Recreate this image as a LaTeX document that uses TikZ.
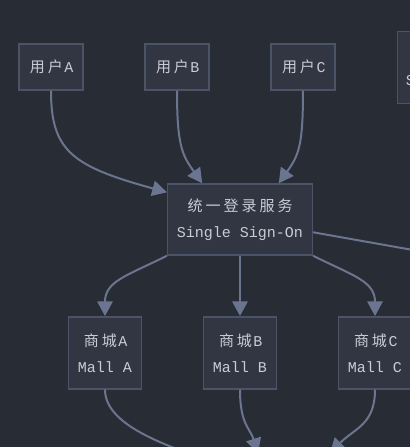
\documentclass[tikz,border=0pt]{standalone}
\usepackage{fontspec}
\setmainfont{Liberation Mono}
\newfontfamily\cjkf{Noto Sans CJK SC}
\usetikzlibrary{arrows.meta,calc}
\definecolor{bg}{HTML}{282C34}
\definecolor{nf}{HTML}{323642}
\definecolor{bd}{HTML}{4B5366}
\definecolor{ed}{HTML}{6B7590}
\definecolor{tx}{HTML}{C8CCD4}
\newcommand{\Z}[1]{\makebox[13.5pt]{\cjkf #1}}
\begin{document}
\begin{tikzpicture}[x=0.75pt,y=-0.75pt,
  box/.style={draw=bd,fill=nf,line width=1.1pt,inner sep=0pt,text=tx,align=center,
    font=\fontsize{11.25pt}{19.5pt}\selectfont},
  userbox/.style={box,minimum width=48pt,minimum height=34.5pt},
  mallbox/.style={box,minimum width=55pt,minimum height=54pt},
  edge/.style={draw=ed,line width=1.5pt,-{Triangle[length=11pt,width=11.5pt]}},
  plain/.style={draw=ed,line width=1.5pt}]
\useasboundingbox (0,0) rectangle (410,447);
\clip (0,0) rectangle (410,447);
\fill[bg] (0,0) rectangle (410,447);

\node[userbox] (ua) at (51,67) {\Z{用}\Z{户}A};
\node[userbox] (ub) at (177,67) {\Z{用}\Z{户}B};
\node[userbox] (uc) at (303,67) {\Z{用}\Z{户}C};
\node[box,anchor=north west,minimum width=75pt,minimum height=54pt] (rn) at (396.7,31) {};
\node[text=tx,inner sep=0pt,anchor=west,font=\fontsize{11.25pt}{19.5pt}\selectfont] (rnt) at (405.5,81) {S};

\node[box,minimum width=108.5pt,minimum height=53.25pt] (sso) at (240,219.5)
  {\Z{统}\Z{一}\Z{登}\Z{录}\Z{服}\Z{务}\\Single Sign-On};

\node[mallbox] (ma) at (105,352.8) {\Z{商}\Z{城}A\\Mall A};
\node[mallbox] (mb) at (240,352.8) {\Z{商}\Z{城}B\\Mall B};
\node[mallbox] (mc) at (375,352.8) {\Z{商}\Z{城}C\\Mall C};

\coordinate (r1) at (520,269);
\coordinate (bA) at (250,475);
\coordinate (bB) at (258,453);
\coordinate (bC) at (330,453);

\draw[edge] (ua.south) .. controls +(0,60) and +(-95,-26) .. ([yshift=-6.75pt]sso.north west);
\draw[edge] (ub.south) .. controls +(0,55) and +(-20,-28) .. ($(sso.north west)+(35.3,0)$);
\draw[edge] (uc.south) .. controls +(0,55) and +(20,-28) .. ($(sso.north east)+(-34.3,0)$);

\draw[edge] (sso.south west) .. controls +(-40,20) and +(0,-35) .. (ma.north);
\draw[edge] (sso.south) -- (mb.north);
\draw[edge] (sso.south east) .. controls +(40,20) and +(0,-35) .. (mc.north);
\draw[plain] ($(sso.north east)+(0,49)$) -- (r1);

\draw[edge] (ma.south) .. controls +(0,40) and +(-70,-25) .. (bA);
\draw[edge] (mb.south) .. controls +(0,35) and +(-8,-25) .. (bB);
\draw[edge] (mc.south) .. controls +(0,35) and +(25,-25) .. (bC);
\end{tikzpicture}
\end{document}
